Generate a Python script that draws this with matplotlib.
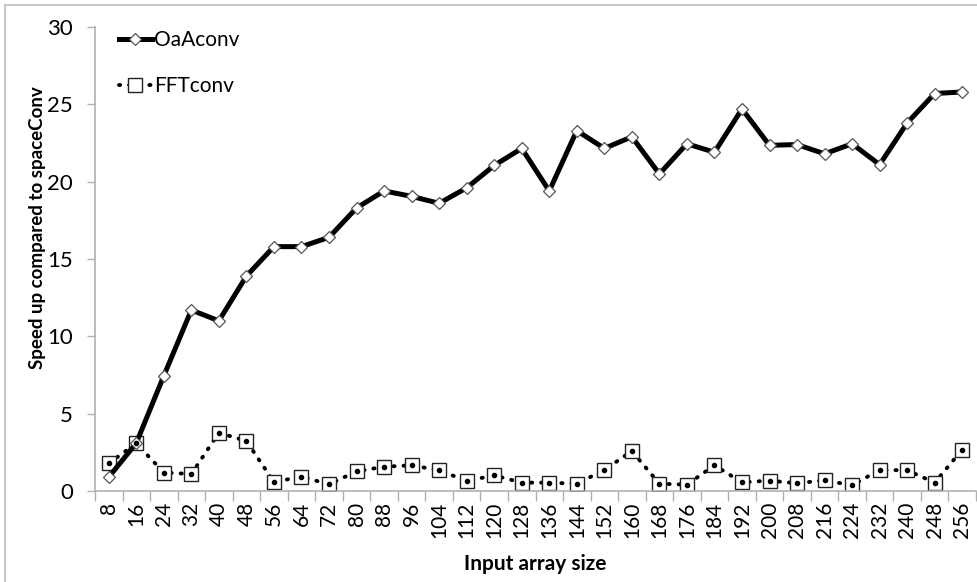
import numpy as np
import matplotlib.pyplot as plt
from matplotlib.patches import Rectangle

plt.rcParams['font.family'] = ['Lato', 'DejaVu Sans']

sizes = list(range(8, 257, 8))

# speed up values
oaa = [0.9, 3.1, 7.45, 11.7, 11.0, 13.9, 15.8, 15.8, 16.4, 18.3, 19.4, 19.05,
       18.6, 19.6, 21.05, 22.15, 19.4, 23.3, 22.15, 22.9, 20.5, 22.45, 21.9,
       24.7, 22.35, 22.4, 21.8, 22.45, 21.1, 23.8, 25.7, 25.8]
fft = [1.79, 3.08, 1.19, 1.1, 3.77, 3.23, 0.58, 0.93, 0.43, 1.27, 1.57, 1.66,
       1.34, 0.65, 1.01, 0.54, 0.54, 0.47, 1.36, 2.58, 0.47, 0.41, 1.66, 0.56,
       0.67, 0.5, 0.69, 0.37, 1.36, 1.34, 0.54, 2.67]

W, H = 977, 582
fig = plt.figure(figsize=(W/100, H/100), dpi=100)

# chart frame
fig.patches.append(Rectangle((5/W, -0.1), 1.2, 1 - 5/H + 0.1, transform=fig.transFigure,
                             fill=False, edgecolor='#c8c8c8', linewidth=1.5))

ax = fig.add_axes([95/W, 1 - 491/H, (976 - 95)/W, (491 - 27)/H])
x = np.arange(len(sizes))

ax.plot(x, oaa, color='black', linewidth=3.6, marker='D', markersize=6.5,
        markerfacecolor='white', markeredgecolor='#555555', markeredgewidth=0.9,
        label='OaAconv', zorder=3)
ax.plot(x, fft, color='black', linewidth=2.8, linestyle=(0, (0.3, 2.3)),
        dash_capstyle='round', marker='s', markersize=10,
        markerfacecolor='white', markeredgecolor='#222222', markeredgewidth=1.0,
        label='FFTconv', zorder=2)
ax.plot(x, fft, linestyle='none', marker='o', markersize=3, color='black', zorder=4)

ax.set_xlim(-0.5, len(sizes) - 0.5)
ax.set_ylim(0, 30)
ax.set_yticks(range(0, 31, 5))
ax.set_xticks(x)
ax.set_xticklabels([str(s) for s in sizes], rotation=90)
ax.set_xticks(np.arange(-0.5, len(sizes)), minor=True)
ax.tick_params(axis='x', which='major', length=0, labelsize=15, pad=8)
ax.tick_params(axis='x', which='minor', length=7, color='#b0b0b0', width=1)
ax.tick_params(axis='y', length=6, color='#b0b0b0', width=1, labelsize=16, pad=10)

for s in ['top', 'right']:
    ax.spines[s].set_visible(False)
for s in ['left', 'bottom']:
    ax.spines[s].set_color('#b0b0b0')
    ax.spines[s].set_linewidth(1.2)

ax.set_ylabel('Speed up compared to spaceConv', fontsize=13.5, fontweight='bold')
ax.yaxis.set_label_coords(-0.056, 0.567)
ax.set_xlabel('Input array size', fontsize=15, fontweight='bold')
ax.xaxis.set_label_coords(0.5, -0.135)

leg = ax.legend(loc='upper left', frameon=False, fontsize=15, handlelength=1.6,
                handletextpad=0.1, labelspacing=1.25, borderaxespad=0.1,
                bbox_to_anchor=(0.015, 1.015))

fig.savefig('out.png', dpi=100)
